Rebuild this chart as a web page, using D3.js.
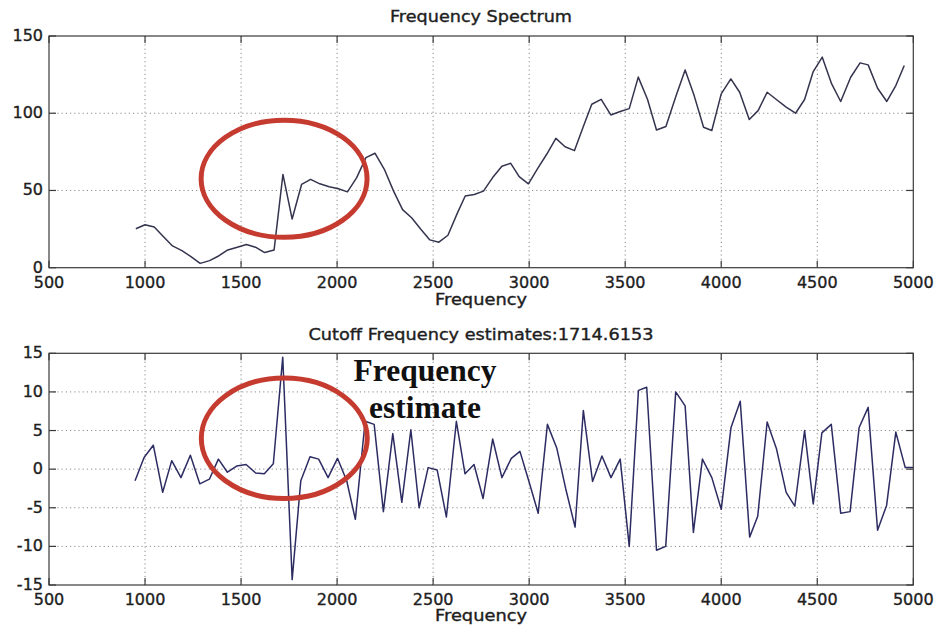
<!DOCTYPE html>
<html>
<head>
<meta charset="utf-8">
<script src="https://cdn.jsdelivr.net/npm/d3@7"></script>
<style>
  html, body { margin: 0; padding: 0; background: #fff; }
  svg { display: block; }
  text { font-family: "DejaVu Sans", "Liberation Sans", sans-serif; fill: #1e1e1e; }
  .lbl { stroke: #1e1e1e; stroke-width: 0.35; }
</style>
</head>
<body>
<svg id="chart" width="938" height="628"></svg>
<script>
// ---------------- DATA ----------------
const spectrumFreq = [952,1000,1048,1095,1143,1192,1239,1287,1336,1383,1431,1480,1528,1575,1623,1672,1718,1766,1815,1862,1910,1959,2007,2054,2102,2150,2197,2246,2294,2341,2389,2438,2483,2530,2577,2625,2667,2714,2762,2809,2858,2904,2948,2996,3043,3092,3139,3187,3236,3283,3326,3375,3425,3474,3521,3568,3616,3663,3712,3764,3812,3859,3908,3951,4000,4050,4096,4146,4192,4239,4287,4338,4387,4434,4479,4526,4575,4622,4674,4723,4765,4814,4862,4909,4953];
const spectrumMag = [25.2,27.8,26.3,20.2,14.1,11.1,7.2,2.8,4.6,7.6,11.5,13.3,15.0,13.3,9.8,11.5,60.4,31.5,53.9,57.2,54.3,52.4,51.1,49.1,58.3,71.3,74.1,63.7,49.6,37.6,32.2,24.6,18.0,16.5,21.0,35.0,46.4,47.4,49.6,58.2,65.7,67.6,59.0,54.3,64.0,73.6,83.7,78.3,75.8,91.8,105.8,109.0,98.9,101.1,103.0,123.4,109.0,89.1,91.4,111.0,128.0,111.4,90.9,88.8,112.5,122.2,113.6,95.9,101.7,113.6,108.9,103.9,100.0,108.9,127.0,136.3,119.0,107.6,123.3,132.6,131.3,116.2,107.6,117.9,130.9];

const estimateFreq = [948,995,1043,1092,1139,1187,1236,1285,1335,1382,1429,1477,1526,1576,1621,1668,1717,1766,1811,1859,1904,1953,2002,2050,2095,2146,2193,2241,2290,2337,2384,2427,2474,2521,2569,2621,2666,2713,2760,2810,2858,2907,2952,3000,3047,3095,3144,3190,3239,3282,3330,3379,3426,3474,3521,3569,3612,3663,3711,3763,3812,3855,3902,3951,4000,4051,4099,4148,4190,4239,4288,4338,4383,4434,4479,4524,4573,4622,4671,4718,4765,4814,4861,4909,4958,5000];
const estimateVal = [-1.5,1.5,3.1,-3.0,1.1,-1.1,1.8,-1.9,-1.3,1.3,-0.4,0.4,0.6,-0.5,-0.6,0.7,14.5,-14.3,-1.5,1.6,1.3,-1.1,1.4,-1.5,-6.5,6.2,5.8,-5.5,4.6,-4.3,5.1,-5.0,0.2,-0.1,-6.2,6.2,-0.6,0.6,-3.8,3.9,-1.1,1.4,2.3,-1.7,-5.7,5.8,2.7,-2.5,-7.5,7.6,-1.6,1.7,-1.1,1.3,-10.0,10.2,10.6,-10.5,-10.0,10.0,8.2,-8.2,1.3,-1.1,-5.2,5.4,8.8,-8.8,-6.1,6.1,2.6,-3.0,-4.8,5.0,-4.5,4.7,5.8,-5.7,-5.5,5.4,8.0,-7.9,-4.7,4.8,0.2,0.2];

const xTickValues = [500,1000,1500,2000,2500,3000,3500,4000,4500,5000];
const topYTicks = [0,50,100,150];
const botYTicks = [-15,-10,-5,0,5,10,15];

const topTitle = "Frequency Spectrum";
const botTitle = "Cutoff Frequency estimates:1714.6153";
const xLabel = "Frequency";
const annotationLines = ["Frequency", "estimate"];

// ellipse annotations in data units: [centerFreq, centerValue, radiusFreq, radiusValue]
const topEllipse = [1724, 57.6, 432, 37.9];
const botEllipse = [1725, 4.0, 432, 7.8];

// ---------------- LAYOUT ----------------
const svg = d3.select("#chart");
const x = d3.scaleLinear().domain([500, 5000]).range([49, 913.3]);
const yTop = d3.scaleLinear().domain([0, 150]).range([267.7, 36]);
const yBot = d3.scaleLinear().domain([-15, 15]).range([585, 353.3]);

function panel(y, yTicks, freq, vals, lineColor, title, titleY, tickLabelY, labelY) {
  const g = svg.append("g");
  const [x0, x1] = x.range();
  const [yb, yt] = y.range();

  // grid
  g.selectAll(".gx").data(xTickValues.slice(1, -1)).join("line")
    .attr("x1", d => x(d)).attr("x2", d => x(d))
    .attr("y1", yt).attr("y2", yb)
    .attr("stroke", "#8a8a8a").attr("stroke-width", 1)
    .attr("stroke-dasharray", "1.2,3");
  g.selectAll(".gy").data(yTicks.slice(1, -1)).join("line")
    .attr("x1", x0).attr("x2", x1)
    .attr("y1", d => y(d)).attr("y2", d => y(d))
    .attr("stroke", "#8a8a8a").attr("stroke-width", 1)
    .attr("stroke-dasharray", "1.2,3");

  // data line
  const pts = freq.map((f, i) => [f, vals[i]]);
  g.append("path")
    .datum(pts)
    .attr("fill", "none")
    .attr("stroke", lineColor)
    .attr("stroke-width", 1.5)
    .attr("stroke-linejoin", "round")
    .attr("d", d3.line().x(d => x(d[0])).y(d => y(d[1])));

  // box
  g.append("rect")
    .attr("x", x0).attr("y", yt)
    .attr("width", x1 - x0).attr("height", yb - yt)
    .attr("fill", "none").attr("stroke", "#3a3a3a").attr("stroke-width", 1.2);

  // inward ticks on all four sides
  const tl = 7;
  g.selectAll(".tb").data(xTickValues).join("line")
    .attr("x1", d => x(d)).attr("x2", d => x(d))
    .attr("y1", yb).attr("y2", yb - tl)
    .attr("stroke", "#3a3a3a").attr("stroke-width", 1.2);
  g.selectAll(".tt").data(xTickValues).join("line")
    .attr("x1", d => x(d)).attr("x2", d => x(d))
    .attr("y1", yt).attr("y2", yt + tl)
    .attr("stroke", "#3a3a3a").attr("stroke-width", 1.2);
  g.selectAll(".tl").data(yTicks).join("line")
    .attr("x1", x0).attr("x2", x0 + tl)
    .attr("y1", d => y(d)).attr("y2", d => y(d))
    .attr("stroke", "#3a3a3a").attr("stroke-width", 1.2);
  g.selectAll(".tr").data(yTicks).join("line")
    .attr("x1", x1).attr("x2", x1 - tl)
    .attr("y1", d => y(d)).attr("y2", d => y(d))
    .attr("stroke", "#3a3a3a").attr("stroke-width", 1.2);

  // tick labels
  g.selectAll(".xl").data(xTickValues).join("text")
    .attr("class", "lbl")
    .attr("x", d => x(d)).attr("y", tickLabelY)
    .attr("text-anchor", "middle")
    .attr("font-size", 16)
    .text(d => d);
  g.selectAll(".yl").data(yTicks).join("text")
    .attr("class", "lbl")
    .attr("x", 43).attr("y", d => y(d) + 5)
    .attr("text-anchor", "end")
    .attr("font-size", 16)
    .text(d => d);

  // title
  g.append("text")
    .attr("class", "lbl")
    .attr("x", 481).attr("y", titleY)
    .attr("text-anchor", "middle")
    .attr("font-size", 15)
    .text(title.t)
    .attr("textLength", title.w).attr("lengthAdjust", "spacingAndGlyphs");

  // x label
  g.append("text")
    .attr("class", "lbl")
    .attr("x", 481).attr("y", labelY)
    .attr("text-anchor", "middle")
    .attr("font-size", 15)
    .text(xLabel)
    .attr("textLength", 92).attr("lengthAdjust", "spacingAndGlyphs");
  return g;
}

panel(yTop, topYTicks, spectrumFreq, spectrumMag, "#34344e", {t: topTitle, w: 182}, 22, 288, 305);
panel(yBot, botYTicks, estimateFreq, estimateVal, "#2c2c62", {t: botTitle, w: 345}, 340, 605, 621);

// red ellipses
function ellipse(y, e) {
  svg.append("ellipse")
    .attr("cx", x(e[0])).attr("cy", y(e[1]))
    .attr("rx", x(e[0] + e[2]) - x(e[0]))
    .attr("ry", y(e[1]) - y(e[1] + e[3]))
    .attr("fill", "none")
    .attr("stroke", "#c63b2f")
    .attr("stroke-width", 5);
}
ellipse(yTop, topEllipse);
ellipse(yBot, botEllipse);

// "Frequency estimate" annotation
const ann = svg.append("text")
  .attr("text-anchor", "middle")
  .style("font-family", "'Liberation Serif', 'Times New Roman', serif")
  .attr("font-weight", "bold")
  .attr("font-size", 31.5)
  .style("fill", "#111");
ann.append("tspan").attr("x", x(2458)).attr("y", yBot(11.4)).text(annotationLines[0]);
ann.append("tspan").attr("x", x(2458)).attr("y", yBot(6.6)).text(annotationLines[1]);
</script>
</body>
</html>
